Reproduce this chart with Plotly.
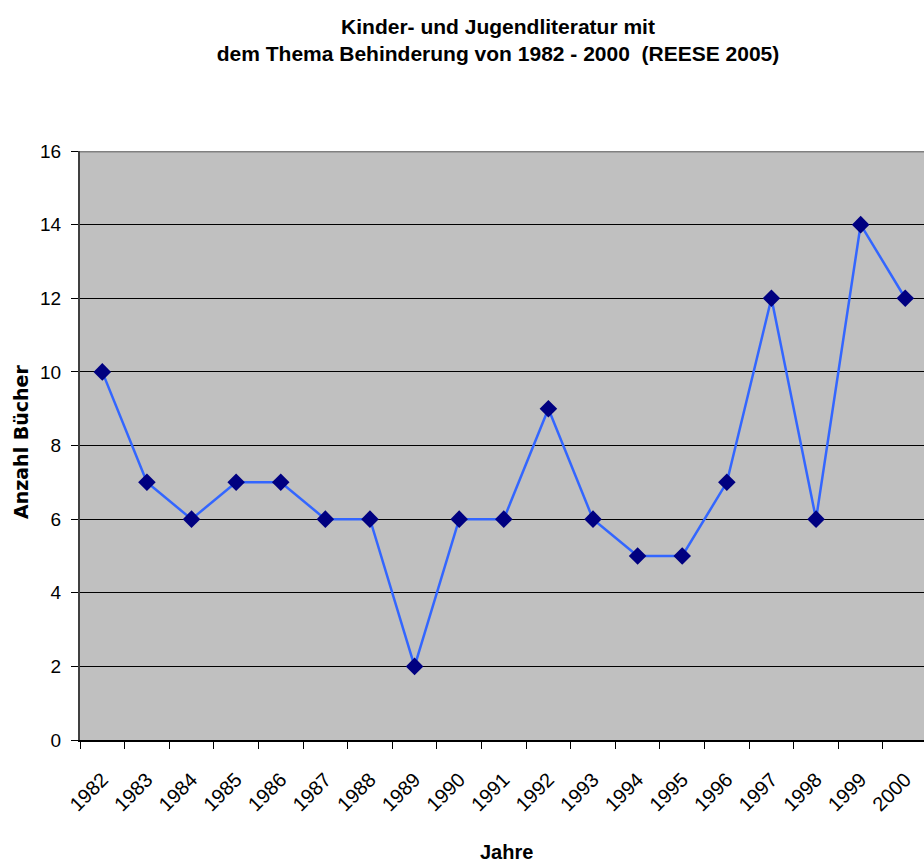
import plotly.graph_objects as go

years = ["1982", "1983", "1984", "1985", "1986", "1987", "1988", "1989", "1990", "1991",
         "1992", "1993", "1994", "1995", "1996", "1997", "1998", "1999", "2000"]
books = [10, 7, 6, 7, 7, 6, 6, 2, 6, 6, 9, 6, 5, 5, 7, 12, 6, 14, 12]
y_ticks = [0, 2, 4, 6, 8, 10, 12, 14, 16]

title_text = "Kinder- und Jugendliteratur mit<br>dem Thema Behinderung von 1982 - 2000  (REESE 2005)"
x_title = "Jahre"
y_title = "Anzahl Bücher"

fig = go.Figure()
fig.add_trace(go.Scatter(
    x=years, y=books, mode="lines+markers",
    line=dict(color="#3366FF", width=2.5),
    marker=dict(symbol="diamond", size=13.5, color="#000080", line=dict(width=0)),
    cliponaxis=False, showlegend=False,
))

fig.update_layout(
    width=924, height=863,
    margin=dict(l=80, r=0, t=151, b=123),
    paper_bgcolor="white", plot_bgcolor="#C0C0C0",
    font=dict(family="Liberation Sans, Arial, sans-serif", size=18, color="black"),
    title=dict(text=title_text, x=498/924, xanchor="center", xref="container",
               y=1 - 34/863, yanchor="top", yref="container",
               font=dict(family="Liberation Sans, Arial", size=21, color="black", weight="bold")),
    xaxis=dict(
        type="category", categoryorder="array", categoryarray=years,
        range=[-0.5, 18.42],
        tickangle=-45, ticks="outside", ticklen=7, tickcolor="black", tickson="boundaries",
        showgrid=False, showline=True, linecolor="black", linewidth=2, zeroline=False,
        ticklabelstandoff=18, tickfont=dict(size=20),
    ),
    yaxis=dict(
        range=[0, 16], tickmode="array", tickvals=y_ticks, ticks="outside", ticklen=7,
        tickcolor="black", showgrid=True, gridcolor="black", gridwidth=1,
        showline=True, linecolor="#404040", linewidth=2, zeroline=False,
        tickfont=dict(size=19), ticklabelstandoff=6,
    ),
    shapes=[dict(type="line", xref="paper", yref="y", x0=0, x1=1, y0=16, y1=16,
                 line=dict(color="#808080", width=3))],
    annotations=[
        dict(text=y_title, xref="paper", yref="paper", x=(21-80)/844, y=(740-442)/589,
             xanchor="center", yanchor="middle", textangle=-90, showarrow=False,
             font=dict(family="DejaVu Sans, Liberation Sans", size=19, weight="bold")),
        dict(text=x_title, xref="paper", yref="paper", x=(506-80)/844, y=(740-852)/589,
             xanchor="center", yanchor="middle", showarrow=False,
             font=dict(size=20, weight="bold")),
    ],
)

fig.write_html("out.html", config={"displayModeBar": False})
with open("out.html", encoding="utf-8") as f:
    html = f.read()
html = html.replace("<body>", '<body style="margin:0;overflow:hidden">', 1)
with open("out.html", "w", encoding="utf-8") as f:
    f.write(html)
